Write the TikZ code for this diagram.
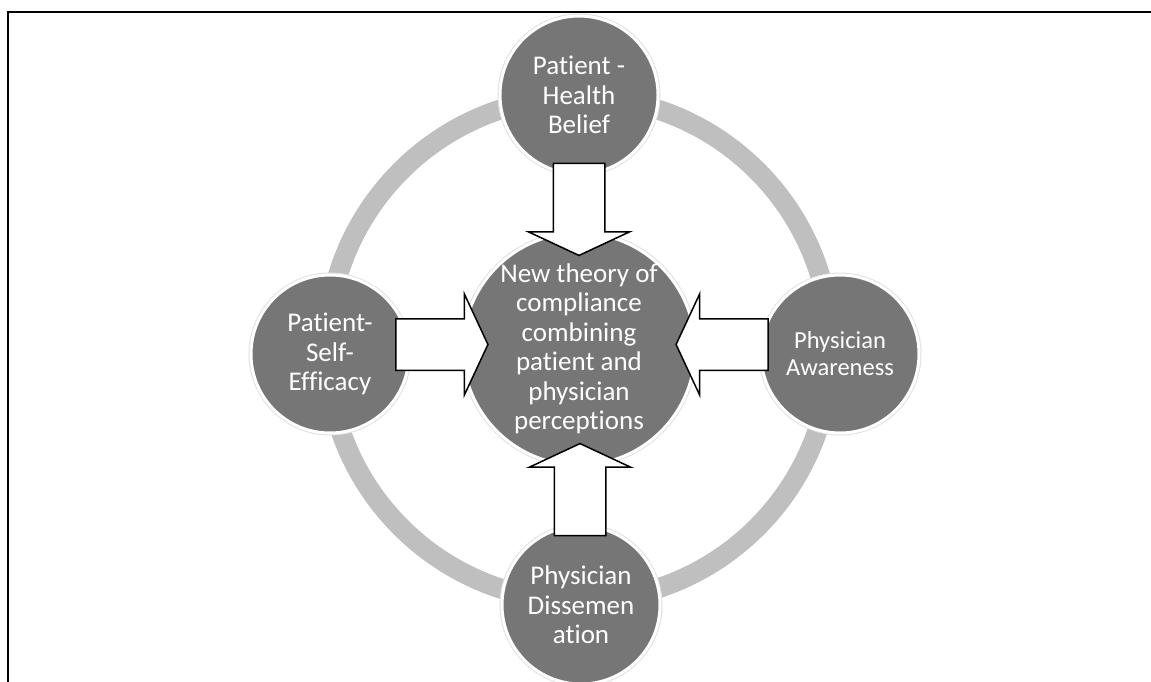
\documentclass[tikz,border=0pt]{standalone}
\usepackage{fontspec}
\setmainfont[RawFeature={-liga;-calt}]{Carlito}
\usetikzlibrary{shapes.arrows,calc}
\definecolor{discgray}{HTML}{767676}
\definecolor{ringgray}{HTML}{BFBFBF}
\tikzset{
  disc/.style={circle, fill=discgray, draw=white, line width=3pt,
    preaction={draw=black!12, line width=5pt}, text=white, align=center,
    inner sep=0pt, font=\fontsize{27}{29.5}\selectfont},
  blockarrow/.style={single arrow, draw=black, fill=white, line width=1.5pt,
    inner xsep=0pt, inner ysep=25pt, single arrow head extend=25pt,
    single arrow tip angle=130, minimum height=92pt}
}
\begin{document}
\begin{tikzpicture}[x=1pt, y=-1pt]
        \useasboundingbox (0,0) rectangle (1151,682);
        % Frame (open at the bottom and right)
        \draw[line width=1.5pt] (8,682) -- (8,12) -- (1151,12);
        % Ring behind the circles
        \coordinate (mid) at (579,349);
        \draw[ringgray, line width=20pt] (mid) circle [radius=252pt];
        % Central circle
        \node[disc, minimum size=222pt] (hub) at (mid)
            {New theory of\\compliance\\combining\\patient and\\physician\\perceptions};
        % Four outer circles
        \node[disc, minimum size=158pt] (top) at (579,95) {Patient -\\Health\\Belief};
        \node[disc, minimum size=158pt] (left) at (330,354) {Patient-\\Self-\\Efficacy};
        \node[disc, minimum size=158pt, font=\fontsize{24.5}{27}\selectfont] (right) at (840,354)
            {Physician\\Awareness};
        \node[disc, minimum size=158pt] (bottom) at (581,605) {Physician\\Dissemen\\ation};
        % Block arrows pointing into the centre
        \node[blockarrow, rotate=-90] (atop) at ($(top.south)!0.5!(hub.north)$) {};
        \node[blockarrow, rotate=90] (abottom) at ($(bottom.north)!0.5!(hub.south)$) {};
        \node[blockarrow, yshift=7pt] (aleft) at ($(left.east)!0.5!(hub.west)$) {};
        \node[blockarrow, rotate=180, yshift=-7pt] (aright) at ($(right.west)!0.5!(hub.east)$) {};
    \end{tikzpicture}
\end{document}
